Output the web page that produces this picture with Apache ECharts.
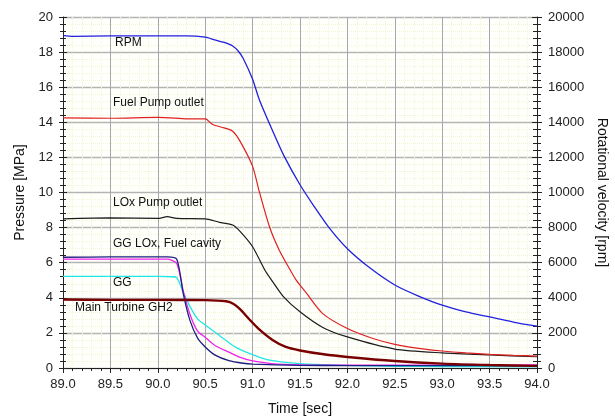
<!DOCTYPE html>
<html>
<head>
<meta charset="utf-8">
<script src="https://cdn.jsdelivr.net/npm/echarts@6/dist/echarts.min.js"></script>
<style>
  html, body { margin: 0; padding: 0; background: #fff; }
  #chart { width: 615px; height: 417px; }
</style>
</head>
<body>
<div id="chart"></div>
<script>
// Axis ranges and ticks
const timeTicks = [89.0, 89.5, 90.0, 90.5, 91.0, 91.5, 92.0, 92.5, 93.0, 93.5, 94.0];
const pressureTicks = [0, 2, 4, 6, 8, 10, 12, 14, 16, 18, 20];
const rpmTicks = [0, 2000, 4000, 6000, 8000, 10000, 12000, 14000, 16000, 18000, 20000];

// Turbopump speed [rpm]
const rpmTime = [89.0, 89.1, 89.5, 90.0, 90.3, 90.5, 90.6, 90.7, 90.79, 90.85, 90.9, 91.0, 91.07, 91.2, 91.33, 91.5, 91.65, 91.81, 92.0, 92.25, 92.5, 92.75, 93.0, 93.25, 93.5, 93.75, 94.0];
const rpmValue = [18950, 18900, 18920, 18920, 18920, 18850, 18700, 18550, 18350, 18050, 17650, 16450, 15300, 13650, 12100, 10440, 9200, 7970, 6800, 5650, 4730, 4100, 3580, 3200, 2910, 2620, 2380];

// Fuel pump outlet pressure [MPa]
const fuelTime = [89.0, 89.5, 90.0, 90.3, 90.5, 90.58, 90.7, 90.79, 90.87, 91.0, 91.07, 91.18, 91.28, 91.39, 91.46, 91.57, 91.74, 92.0, 92.27, 92.5, 92.75, 93.0, 93.25, 93.5, 93.75, 94.0];
const fuelValue = [14.25, 14.23, 14.28, 14.2, 14.19, 13.87, 13.68, 13.49, 12.9, 11.49, 10.06, 8.02, 6.73, 5.65, 5.01, 4.25, 3.1, 2.25, 1.68, 1.35, 1.12, 0.97, 0.86, 0.78, 0.72, 0.68];

// LOx pump outlet pressure [MPa]
const loxTime = [89.0, 89.5, 90.0, 90.1, 90.2, 90.5, 90.65, 90.79, 90.87, 91.0, 91.13, 91.2, 91.32, 91.5, 91.74, 92.0, 92.5, 93.0, 93.5, 94.0];
const loxValue = [8.5, 8.55, 8.52, 8.62, 8.52, 8.5, 8.3, 8.15, 7.77, 6.91, 5.57, 5.01, 4.1, 3.2, 2.31, 1.77, 1.08, 0.86, 0.74, 0.64];

// GG LOx cavity pressure [MPa]
const ggLoxTime = [89.0, 89.5, 90.0, 90.1, 90.2, 90.27, 90.34, 90.42, 90.5, 90.6, 90.75, 90.9, 91.0, 91.5, 92.0, 93.0, 94.0];
const ggLoxValue = [6.31, 6.33, 6.33, 6.33, 6.19, 4.2, 2.7, 1.7, 1.2, 0.75, 0.42, 0.27, 0.22, 0.15, 0.14, 0.13, 0.13];

// GG fuel cavity pressure [MPa]
const ggFuelTime = [89.0, 89.5, 90.0, 90.1, 90.2, 90.27, 90.34, 90.42, 90.5, 90.6, 90.75, 90.87, 91.0, 91.2, 91.5, 92.0, 93.0, 94.0];
const ggFuelValue = [6.2, 6.2, 6.2, 6.2, 5.95, 4.35, 3.05, 2.1, 1.75, 1.3, 0.9, 0.6, 0.4, 0.25, 0.18, 0.16, 0.16, 0.17];

// GG chamber pressure [MPa]
const ggTime = [89.0, 89.5, 90.0, 90.15, 90.2, 90.27, 90.34, 90.42, 90.5, 90.65, 90.8, 90.87, 91.0, 91.18, 91.5, 92.0, 92.5, 93.0, 94.0];
const ggValue = [5.22, 5.22, 5.22, 5.2, 5.15, 4.3, 3.5, 2.8, 2.45, 1.85, 1.25, 1.05, 0.76, 0.45, 0.25, 0.15, 0.1, 0.08, 0.07];

// Main turbine GH2 inlet pressure [MPa]
const turbTime = [89.0, 89.5, 90.0, 90.5, 90.72, 90.8, 90.87, 90.97, 91.07, 91.21, 91.35, 91.5, 91.75, 92.0, 92.5, 93.0, 93.5, 94.0];
const turbValue = [3.9, 3.88, 3.88, 3.87, 3.8, 3.65, 3.34, 2.75, 2.2, 1.6, 1.2, 1.0, 0.78, 0.63, 0.4, 0.25, 0.17, 0.12];

// Curve captions
const captions = ['RPM', 'Fuel Pump outlet', 'LOx Pump outlet', 'GG LOx, Fuel cavity', 'GG', 'Main Turbine GH2'];

const pairs = (ts, vs) => ts.map((t, i) => [t, vs[i]]);

const FONT = '"Liberation Sans", Arial, sans-serif';
const tickStep = (arr) => arr[1] - arr[0];

function line(name, ts, vs, color, width, yAxisIndex) {
  return {
    name, type: 'line', data: pairs(ts, vs), yAxisIndex: yAxisIndex || 0,
    showSymbol: false, smooth: 0.25,
    lineStyle: { color, width: width || 1.3 }, itemStyle: { color },
    animation: false, z: 3
  };
}

const chart = echarts.init(document.getElementById('chart'), null, { renderer: 'canvas' });

const axisLabel = { color: '#222', fontFamily: FONT, fontSize: 13 };

chart.setOption({
  backgroundColor: '#ffffff',
  animation: false,
  grid: {
    left: 63, right: 78, top: 17, bottom: 49,
    outerBoundsMode: 'none', containLabel: false,
    show: true, backgroundColor: '#fffffb', borderWidth: 0
  },
  xAxis: [
    {
      type: 'value', position: 'bottom',
      min: timeTicks[0], max: timeTicks[timeTicks.length - 1], interval: tickStep(timeTicks),
      name: 'Time [sec]', nameLocation: 'middle', nameGap: 34,
      nameTextStyle: { color: '#111', fontFamily: FONT, fontSize: 14 },
      axisLine: { show: true, lineStyle: { color: '#222', width: 1 } },
      axisTick: { show: true, inside: false, length: 5, lineStyle: { color: '#222' } },
      minorTick: { show: true, splitNumber: 5, length: 3, lineStyle: { color: '#222' } },
      axisLabel: Object.assign({ formatter: v => v.toFixed(1), margin: 10 }, axisLabel),
      splitLine: { show: true, lineStyle: { color: '#a8a8a8', width: 1 } },
      minorSplitLine: { show: true, lineStyle: { color: '#f4f4d6', width: 1, type: 'dotted' } }
    },
    {
      type: 'value', position: 'top',
      min: timeTicks[0], max: timeTicks[timeTicks.length - 1], interval: tickStep(timeTicks),
      axisLine: { show: true, lineStyle: { color: '#222', width: 1 } },
      axisTick: { show: true, inside: true, length: 5, lineStyle: { color: '#222' } },
      minorTick: { show: true, splitNumber: 5, length: 3, lineStyle: { color: '#222' } },
      axisLabel: { show: false },
      splitLine: { show: false }
    }
  ],
  yAxis: [
    {
      type: 'value', position: 'left',
      min: pressureTicks[0], max: pressureTicks[pressureTicks.length - 1], interval: tickStep(pressureTicks),
      name: 'Pressure [MPa]', nameLocation: 'middle', nameGap: 30,
      nameTextStyle: { color: '#111', fontFamily: FONT, fontSize: 14 },
      axisLine: { show: true, lineStyle: { color: '#222', width: 1 } },
      axisTick: { show: true, inside: false, length: 4, lineStyle: { color: '#222' } },
      minorTick: { show: true, splitNumber: 5, length: 3, lineStyle: { color: '#222' } },
      axisLabel: Object.assign({ margin: 10 }, axisLabel),
      splitLine: { show: true, lineStyle: { color: '#b4b4b4', width: 1.3 } },
      minorSplitLine: { show: true, lineStyle: { color: '#f4f4d6', width: 1, type: 'dotted' } }
    },
    {
      type: 'value', position: 'right',
      min: rpmTicks[0], max: rpmTicks[rpmTicks.length - 1], interval: tickStep(rpmTicks),
      name: 'Rotational velocity [rpm]', nameLocation: 'middle', nameGap: 52, nameRotate: -90,
      nameTextStyle: { color: '#111', fontFamily: FONT, fontSize: 14 },
      axisLine: { show: true, lineStyle: { color: '#222', width: 1 } },
      axisTick: { show: true, inside: false, length: 5, lineStyle: { color: '#222' } },
      minorTick: { show: true, splitNumber: 5, length: 4, lineStyle: { color: '#222' } },
      axisLabel: Object.assign({ margin: 11, formatter: v => String(v) }, axisLabel),
      splitLine: { show: false }
    },
    {
      // inner half of the crossing ticks on the right axis
      type: 'value', position: 'right',
      min: rpmTicks[0], max: rpmTicks[rpmTicks.length - 1], interval: tickStep(rpmTicks),
      axisLine: { show: false },
      axisTick: { show: true, inside: true, length: 5, lineStyle: { color: '#222' } },
      minorTick: { show: true, splitNumber: 5, length: 4, lineStyle: { color: '#222' } },
      axisLabel: { show: false },
      splitLine: { show: false }
    },
    {
      // inner half of the crossing ticks on the left axis
      type: 'value', position: 'left',
      min: pressureTicks[0], max: pressureTicks[pressureTicks.length - 1], interval: tickStep(pressureTicks),
      axisLine: { show: false },
      axisTick: { show: true, inside: true, length: 4, lineStyle: { color: '#222' } },
      minorTick: { show: true, splitNumber: 5, length: 3, lineStyle: { color: '#222' } },
      axisLabel: { show: false },
      splitLine: { show: false }
    }
  ],
  series: [
    line('GG', ggTime, ggValue, '#20e6e6', 1.3),
    line('GG Fuel cavity', ggFuelTime, ggFuelValue, '#ee22ee', 1.3),
    line('GG LOx cavity', ggLoxTime, ggLoxValue, '#1e1e80', 1.3),
    line('LOx Pump outlet', loxTime, loxValue, '#1c1c1c', 1.2),
    line('Fuel Pump outlet', fuelTime, fuelValue, '#e02020', 1.2),
    line('Main Turbine GH2', turbTime, turbValue, '#780000', 2.4),
    line('RPM', rpmTime, rpmValue, '#2020e0', 1.3, 1)
  ],
  graphic: [
    [captions[0], 115, 37],
    [captions[1], 113, 97],
    [captions[2], 113, 197],
    [captions[3], 113, 238],
    [captions[4], 113, 277],
    [captions[5], 75, 302]
  ].map(([text, x, y]) => ({
    type: 'text', left: x, top: y, z: 10,
    style: { text, fill: '#111', font: '12px ' + FONT }
  }))
});
</script>
</body>
</html>
